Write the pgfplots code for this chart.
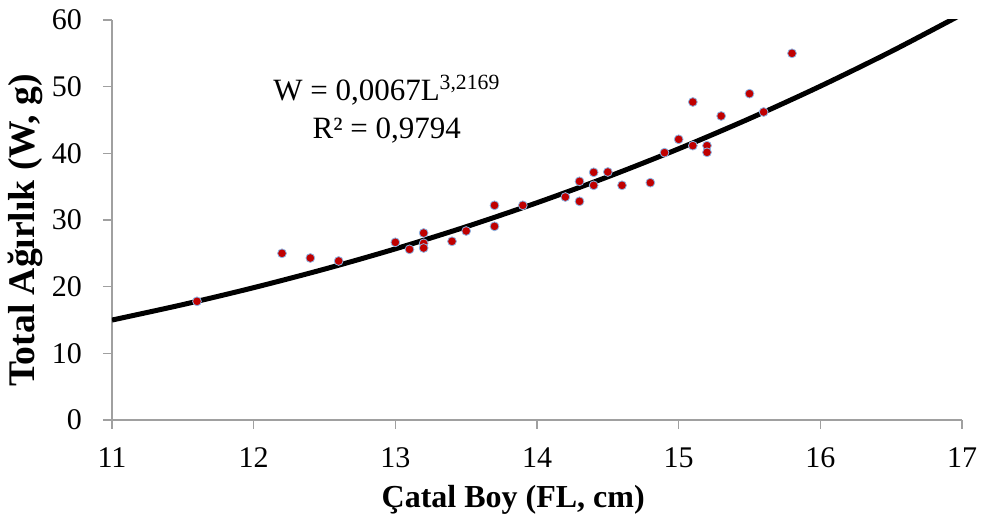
\documentclass[border=0pt]{standalone}
\usepackage{fontspec}
\setmainfont{Liberation Serif}
\usepackage{pgfplots}
\pgfplotsset{compat=1.18}
\definecolor{ptred}{HTML}{C00000}
\definecolor{ptedge}{HTML}{8DB3E2}
\definecolor{axgray}{HTML}{A0A0A0}
\begin{document}
\begin{tikzpicture}
\begin{axis}[
  at={(0,0)}, anchor=south west,
  scale only axis, width=425pt, height=200pt,
  xmin=11, xmax=17, ymin=0, ymax=60,
  xtick={11,12,...,17}, ytick={0,10,...,60},
  axis x line*=bottom, axis y line*=left,
  axis line style={axgray, line width=0.6pt, -},
  tick style={axgray, line width=0.6pt},
  tick align=outside, major tick length=4.5pt,
  /pgf/number format/assume math mode=true,
  tick label style={font=\fontsize{15}{17}\selectfont},
  yticklabel style={xshift=-7pt},
  xticklabel style={yshift=-6pt},
  xlabel={\textbf{Çatal Boy (FL, cm)}},
  ylabel={\textbf{Total Ağırlık (W, g)}},
  xlabel style={font=\fontsize{16}{18}\selectfont, at={(axis description cs:0.472,-0.2)}, anchor=center},
  ylabel style={font=\fontsize{18.8}{20}\selectfont, at={(axis description cs:-0.1024,0.474)}, anchor=center, rotate=0},
  clip=true,
]
\addplot[only marks, mark=*, mark size=2.2pt, mark options={fill=ptred, draw=ptedge, line width=0.4pt}] coordinates {
(11.6,17.8) (12.2,25.0) (12.4,24.3) (12.6,23.85)
(13.0,26.65) (13.1,25.6) (13.2,28.05) (13.2,26.5) (13.2,25.8)
(13.4,26.8) (13.5,28.35) (13.7,32.2) (13.7,29.05) (13.9,32.2)
(14.2,33.45) (14.3,32.8) (14.3,35.8) (14.4,37.15) (14.4,35.2)
(14.5,37.2) (14.6,35.2) (14.8,35.6) (14.9,40.1) (15.0,42.1)
(15.1,47.7) (15.1,41.15) (15.2,41.15) (15.2,40.15) (15.3,45.6)
(15.5,48.95) (15.6,46.2) (15.8,55.0)
};
\addplot[black, line width=2.5pt, smooth] coordinates {
(11,14.99) (11.5,17.31) (12,19.85) (12.5,22.63) (13,25.67) (13.5,28.99)
(14,32.59) (14.5,36.48) (15,40.68) (15.5,45.21) (16,50.07) (16.5,55.28) (17,60.86)
};
\node[font=\fontsize{15.5}{19}\selectfont, align=center] at (axis cs:12.94,46.6)
  {W = 0,0067L\textsuperscript{3,2169}\\R² = 0,9794};
\end{axis}
\pgfresetboundingbox
\useasboundingbox (-56pt,-51pt) rectangle (436pt,210pt);
\end{tikzpicture}
\end{document}
